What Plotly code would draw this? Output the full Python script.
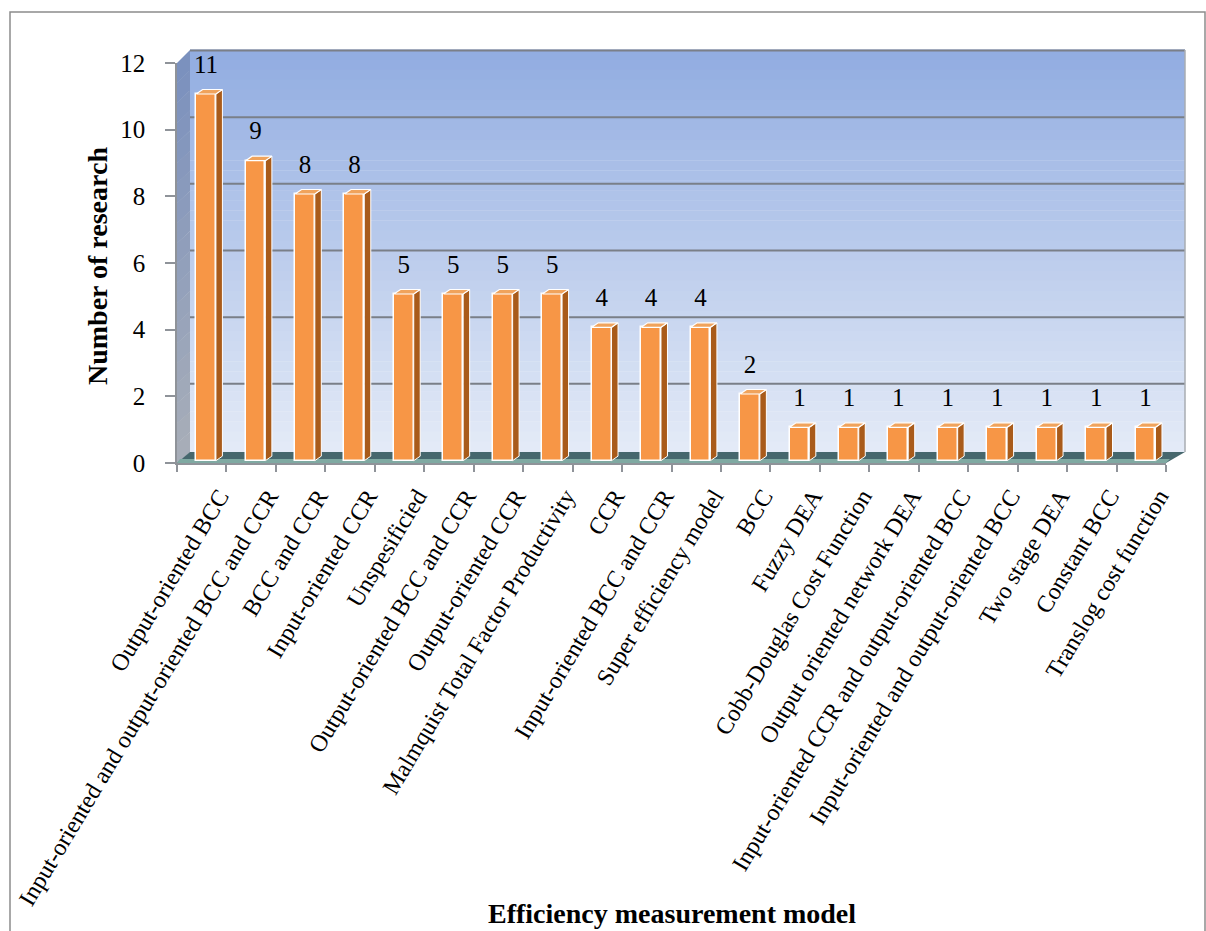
import plotly.graph_objects as go

categories = [
    "Output-oriented BCC",
    "Input-oriented and output-oriented BCC and CCR",
    "BCC and CCR",
    "Input-oriented CCR",
    "Unspesificied",
    "Output-oriented BCC and CCR",
    "Output-oriented CCR",
    "Malmquist Total Factor Productivity",
    "CCR",
    "Input-oriented BCC and CCR",
    "Super efficiency model",
    "BCC",
    "Fuzzy DEA",
    "Cobb-Douglas Cost Function",
    "Output oriented network DEA",
    "Input-oriented CCR and output-oriented BCC",
    "Input-oriented and output-oriented BCC",
    "Two stage DEA",
    "Constant BCC",
    "Translog cost function",
]
values = [11, 9, 8, 8, 5, 5, 5, 5, 4, 4, 4, 2, 1, 1, 1, 1, 1, 1, 1, 1]
y_ticks = [0, 2, 4, 6, 8, 10, 12]
x_title = "Efficiency measurement model"
y_title = "Number of research"

FONT = "Liberation Serif"
W, H = 1206, 931
L, R, T, B = 177, 40, 63, 468
PW = W - L - R
PH = H - T - B
YMAX = 12
n = len(categories)
ux = PW / n           # px per category
uy = PH / YMAX        # px per unit


def px(x):
    return (x - L) / PW


def py(y):
    return (T + PH - y) / PH


def hexc(c):
    return "#%02x%02x%02x" % tuple(int(round(v)) for v in c)


def lerp(a, b, t):
    return [a[i] + (b[i] - a[i]) * t for i in range(3)]


shapes = []

# back wall gradient
top_c = (145, 172, 225)
bot_c = (228, 235, 247)
wx0, wx1, wy0, wy1 = 190, 1185, 50, 452
nb = 40
for k in range(nb):
    y0 = wy0 + (wy1 - wy0) * k / nb
    y1 = wy0 + (wy1 - wy0) * (k + 1) / nb
    col = hexc(lerp(top_c, bot_c, (k + 0.5) / nb))
    shapes.append(dict(type="rect", xref="paper", yref="paper", layer="below",
                       x0=px(wx0), x1=px(wx1), y0=py(y1), y1=py(y0) + 0.001,
                       fillcolor=col, line=dict(width=0)))

# left side wall gradient (parallelogram bands)
sw_top = (122, 144, 190)
sw_bot = (168, 174, 184)
ns = 20
for k in range(ns):
    t0 = k / ns
    t1 = (k + 1) / ns
    fy0 = 63 + 400 * t0
    fy1 = 63 + 400 * t1
    by0 = 50 + 402 * t0
    by1 = 50 + 402 * t1
    col = hexc(lerp(sw_top, sw_bot, (k + 0.5) / ns))
    path = "M %f,%f L %f,%f L %f,%f L %f,%f Z" % (
        px(177), py(fy0), px(190), py(by0), px(190), py(by1) - 0.001, px(177), py(fy1) - 0.001)
    shapes.append(dict(type="path", xref="paper", yref="paper", layer="below",
                       path=path, fillcolor=col, line=dict(width=0)))

# back-wall gridlines
for v in y_ticks[1:]:
    yy = 463 - v * uy - 12.5
    shapes.append(dict(type="line", xref="paper", yref="paper", layer="below",
                       x0=px(190), x1=px(1185), y0=py(yy), y1=py(yy),
                       line=dict(color="#7a7f88", width=2)))
shapes.append(dict(type="line", xref="paper", yref="paper", layer="below",
                   x0=px(1185), x1=px(1185), y0=py(50), y1=py(452),
                   line=dict(color="#a8acb2", width=1.5)))

# floor
floor = "M %f,%f L %f,%f L %f,%f L %f,%f Z" % (
    px(177), py(463), px(1166), py(463), px(1185), py(452), px(190), py(452))
shapes.append(dict(type="path", xref="paper", yref="paper", layer="below",
                   path=floor, fillcolor="#46676d", line=dict(width=0)))
floor_front = "M %f,%f L %f,%f L %f,%f L %f,%f Z" % (
    px(177), py(463), px(1166), py(463), px(1170), py(459), px(180), py(459))
shapes.append(dict(type="path", xref="paper", yref="paper", layer="below",
                   path=floor_front, fillcolor="#7fa9a2", line=dict(width=0)))

# outer border
shapes.append(dict(type="rect", xref="paper", yref="paper", layer="above",
                   x0=px(10), x1=px(1205), y0=py(940), y1=py(12),
                   fillcolor="rgba(0,0,0,0)", line=dict(color="#8c8c8c", width=1.5)))

# 3D bar geometry
base = 0.07
bw = 0.4
boff = -0.113
dx = 6.5 / ux
dy = 4.5 / uy

side_x, side_y, top_x, top_y = [], [], [], []
for i, v in enumerate(values):
    xl = i + boff
    xr = xl + bw
    side_x += [xr, xr + dx, xr + dx, xr, xr, None]
    side_y += [base, base + dy, base + v + dy, base + v, base, None]
    top_x += [xl, xr, xr + dx, xl + dx, xl, None]
    top_y += [base + v, base + v, base + v + dy, base + v + dy, base + v, None]

fig = go.Figure()
fig.add_trace(go.Scatter(x=side_x, y=side_y, mode="lines", fill="toself",
                         fillcolor="#a95b1a", line=dict(color="#ffffff", width=1),
                         hoverinfo="skip", showlegend=False))
fig.add_trace(go.Scatter(x=top_x, y=top_y, mode="lines", fill="toself",
                         fillcolor="#f0a35c", line=dict(color="#ffffff", width=1.2),
                         hoverinfo="skip", showlegend=False))
fig.add_trace(go.Bar(x=list(range(n)), y=values, base=base, width=bw, offset=boff,
                     marker=dict(color="#f79646", line=dict(color="#ffffff", width=1.5)),
                     showlegend=False))
fig.add_trace(go.Scatter(x=[i + boff + bw / 2 for i in range(n)],
                         y=[v + 0.9 for v in values],
                         text=[str(v) for v in values], mode="text",
                         textposition="middle center",
                         textfont=dict(family=FONT, size=25, color="#000000"),
                         cliponaxis=False, hoverinfo="skip", showlegend=False))

fig.update_layout(
    width=W, height=H,
    margin=dict(l=L, r=R, t=T, b=B, pad=0),
    paper_bgcolor="#ffffff",
    plot_bgcolor="rgba(0,0,0,0)",
    shapes=shapes,
    showlegend=False,
    bargap=0,
    font=dict(family=FONT, color="#000000"),
    xaxis=dict(
        range=[-0.5, n - 0.5], tickmode="array",
        tickvals=[i + 0.36 for i in range(n)], ticktext=categories,
        tickangle=-59, ticks="", showgrid=False, zeroline=False,
        showline=True, linecolor="#8f9399", linewidth=1.5,
        ticklabelstandoff=8,
        tickfont=dict(family=FONT, size=24, color="#000000"),
        minor=dict(tickvals=[i - 0.5 for i in range(n + 1)], ticks="outside",
                   ticklen=7, tickcolor="#8f9399", tickwidth=1.5, showgrid=False),
    ),
    yaxis=dict(
        range=[0, YMAX], tickmode="array", tickvals=y_ticks,
        ticks="outside", ticklen=10, tickcolor="#8f9399", tickwidth=1.5,
        showgrid=False, zeroline=False, showline=True, linecolor="#8f9399", linewidth=1.5,
        ticklabelstandoff=15,
        tickfont=dict(family=FONT, size=25, color="#000000"),
    ),
    annotations=[
        dict(text="<b>%s</b>" % x_title, xref="paper", yref="paper",
             x=px(672), y=py(913), xanchor="center", yanchor="middle",
             showarrow=False, font=dict(family=FONT, size=28, color="#000000")),
        dict(text="<b>%s</b>" % y_title, xref="paper", yref="paper",
             x=px(97), y=py(266), xanchor="center", yanchor="middle", textangle=-90,
             showarrow=False, font=dict(family=FONT, size=28, color="#000000")),
    ],
)

fig.write_html("out.html", config={"displayModeBar": False},
               post_script="document.body.style.margin='0px';document.body.style.overflow='hidden';")
